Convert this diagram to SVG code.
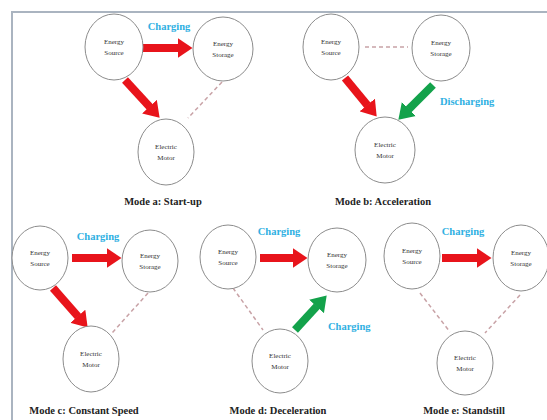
<svg xmlns="http://www.w3.org/2000/svg" width="547" height="420" viewBox="0 0 547 420">
<style>
.node ellipse{fill:#fff;stroke:#8c8c8c;stroke-width:1}
.node text{font-family:"Liberation Serif",serif;font-size:7px;fill:#333;text-anchor:middle}
.mode{font-family:"Liberation Serif",serif;font-size:10.5px;font-weight:bold;fill:#222;text-anchor:middle}
.lbl{font-family:"Liberation Serif",serif;font-size:10.5px;font-weight:bold;fill:#2fb0e2}
.red{stroke:#e8141b;stroke-width:8;fill:none;marker-end:url(#hr)}
.green{stroke:#13a24b;stroke-width:8;fill:none;marker-end:url(#hg)}
.dash{stroke:#c8a2a6;stroke-width:1.5;stroke-dasharray:4 3;fill:none}
.frame{stroke:#aab4c0;stroke-width:2;fill:none}
</style>
<defs>
<marker id="hr" markerUnits="userSpaceOnUse" viewBox="0 0 15 20" refX="0.5" refY="10" markerWidth="15" markerHeight="20" orient="auto"><path d="M0 0 L15 10 L0 20 Z" fill="#e8141b"/></marker>
<marker id="hg" markerUnits="userSpaceOnUse" viewBox="0 0 15 20" refX="0.5" refY="10" markerWidth="15" markerHeight="20" orient="auto"><path d="M0 0 L15 10 L0 20 Z" fill="#13a24b"/></marker>
</defs>
<rect width="547" height="420" fill="#fff"/>
<path class="frame" d="M12 420 V12 H547"/>

<g id="connectors">
<!-- Mode a -->
<line class="red" x1="143" y1="48" x2="178" y2="48"/>
<line class="red" x1="125" y1="80" x2="149.8" y2="107"/>
<line class="dash" x1="222" y1="82" x2="188" y2="118"/>
<!-- Mode b -->
<line class="dash" x1="365" y1="47" x2="408" y2="47"/>
<line class="red" x1="345" y1="78" x2="367.5" y2="105.4"/>
<line class="green" x1="433" y1="85" x2="408.6" y2="109.4"/>
<!-- Mode c -->
<line class="red" x1="72" y1="258" x2="107" y2="258"/>
<line class="red" x1="53" y1="288" x2="78.1" y2="316.7"/>
<line class="dash" x1="148" y1="293" x2="112" y2="333"/>
<!-- Mode d -->
<line class="red" x1="260" y1="258" x2="293" y2="258"/>
<line class="green" x1="295" y1="330" x2="316.9" y2="306.1"/>
<line class="dash" x1="233" y1="288" x2="263" y2="330"/>
<!-- Mode e -->
<line class="red" x1="442" y1="258" x2="477" y2="258"/>
<line class="dash" x1="420" y1="293" x2="450" y2="332"/>
<line class="dash" x1="520" y1="295" x2="485" y2="333"/>
</g>

<g id="a-source" class="node"><ellipse cx="114" cy="47" rx="29" ry="33"/><text x="114" y="44">Energy</text><text x="114" y="55">Source</text></g>
<g id="a-storage" class="node"><ellipse cx="223" cy="49" rx="30" ry="32"/><text x="223" y="46">Energy</text><text x="223" y="57">Storage</text></g>
<g id="a-motor" class="node"><ellipse cx="166" cy="152" rx="28" ry="33"/><text x="166" y="149">Electric</text><text x="166" y="160">Motor</text></g>

<g id="b-source" class="node"><ellipse cx="331" cy="47" rx="28" ry="33"/><text x="331" y="44">Energy</text><text x="331" y="55">Source</text></g>
<g id="b-storage" class="node"><ellipse cx="441" cy="48" rx="29" ry="33"/><text x="441" y="45">Energy</text><text x="441" y="56">Storage</text></g>
<g id="b-motor" class="node"><ellipse cx="385" cy="150" rx="30" ry="33"/><text x="385" y="147">Electric</text><text x="385" y="158">Motor</text></g>

<g id="c-source" class="node"><ellipse cx="40" cy="258" rx="28" ry="32"/><text x="40" y="255">Energy</text><text x="40" y="266">Source</text></g>
<g id="c-storage" class="node"><ellipse cx="150" cy="261" rx="28" ry="31"/><text x="150" y="258">Energy</text><text x="150" y="269">Storage</text></g>
<g id="c-motor" class="node"><ellipse cx="91" cy="359" rx="28" ry="33"/><text x="91" y="356">Electric</text><text x="91" y="367">Motor</text></g>

<g id="d-source" class="node"><ellipse cx="228" cy="257" rx="28" ry="32"/><text x="228" y="254">Energy</text><text x="228" y="265">Source</text></g>
<g id="d-storage" class="node"><ellipse cx="337" cy="260" rx="29" ry="32"/><text x="337" y="257">Energy</text><text x="337" y="268">Storage</text></g>
<g id="d-motor" class="node"><ellipse cx="280" cy="361" rx="28" ry="32"/><text x="280" y="358">Electric</text><text x="280" y="369">Motor</text></g>

<g id="e-source" class="node"><ellipse cx="412" cy="256" rx="28" ry="33"/><text x="412" y="253">Energy</text><text x="412" y="264">Source</text></g>
<g id="e-storage" class="node"><ellipse cx="521" cy="258" rx="28" ry="33"/><text x="521" y="255">Energy</text><text x="521" y="266">Storage</text></g>
<g id="e-motor" class="node"><ellipse cx="465" cy="363" rx="28" ry="32"/><text x="465" y="360">Electric</text><text x="465" y="371">Motor</text></g>

<g id="labels">
<text class="lbl" x="169" y="30" text-anchor="middle">Charging</text>
<text class="lbl" x="440" y="105">Discharging</text>
<text class="lbl" x="98" y="240" text-anchor="middle">Charging</text>
<text class="lbl" x="279" y="235" text-anchor="middle">Charging</text>
<text class="lbl" x="328" y="330">Charging</text>
<text class="lbl" x="463" y="235" text-anchor="middle">Charging</text>
<text class="mode" x="163" y="205">Mode a: Start-up</text>
<text class="mode" x="383" y="205">Mode b: Acceleration</text>
<text class="mode" x="84" y="414">Mode c: Constant Speed</text>
<text class="mode" x="278" y="414">Mode d: Deceleration</text>
<text class="mode" x="464" y="414">Mode e: Standstill</text>
</g>
</svg>
